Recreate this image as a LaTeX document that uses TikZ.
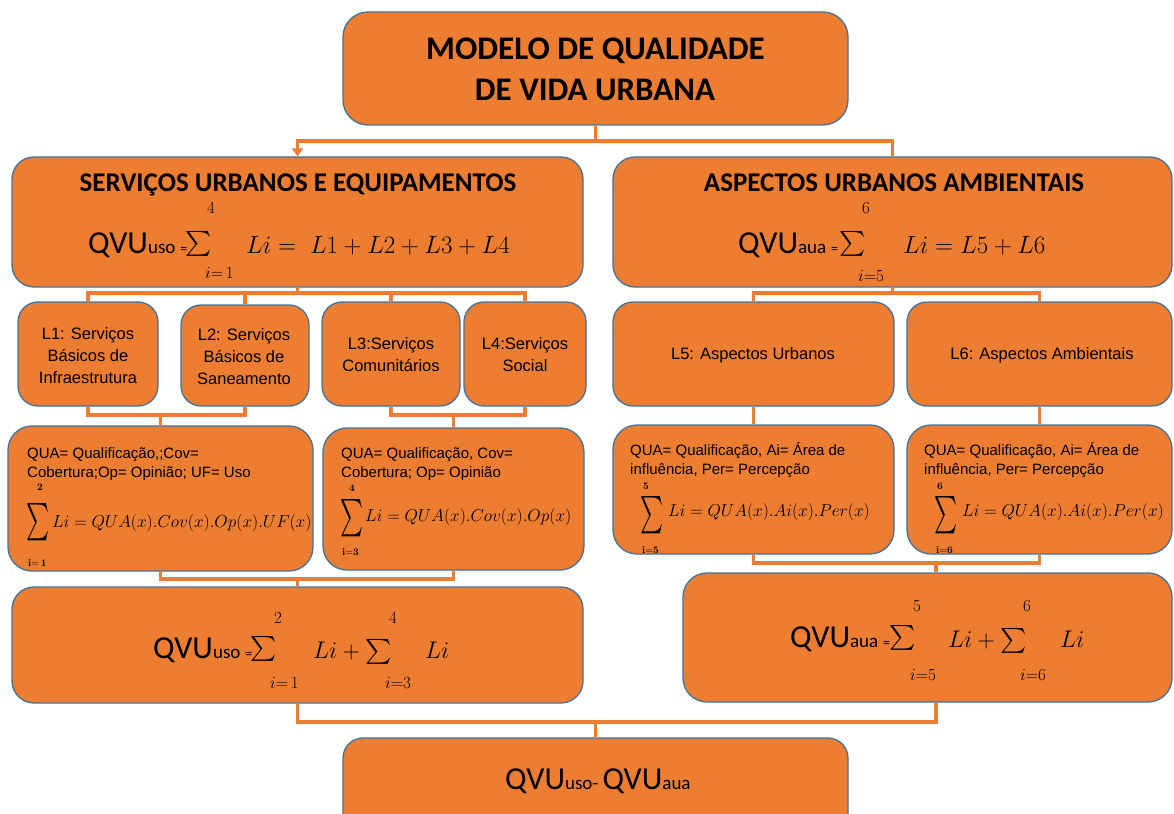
\RequirePackage{fix-cm}
\documentclass[tikz,border=0pt]{standalone}
\usepackage{exscale}
\usepackage[no-math]{fontspec}
\setmainfont{Liberation Sans}
\newfontfamily\calfont{Carlito}
\usetikzlibrary{arrows.meta}
\definecolor{boxfill}{HTML}{ED7D31}
\definecolor{boxline}{HTML}{41719C}
\newcommand\myfs[1]{\fontsize{#1}{#1}\selectfont}
\begin{document}
\begin{tikzpicture}[x=1pt,y=-1pt,
 box/.style={draw=boxline, line width=1.3pt, fill=boxfill, rounded corners=20pt, inner sep=0pt},
 conn/.style={draw=boxfill, line width=3.5pt},
 tw/.style={anchor=base west, inner sep=0pt},
 tb/.style={anchor=base, inner sep=0pt},
 cal/.style={font=\calfont\myfs{#1}},
 calb/.style={font=\calfont\bfseries\myfs{#1}},
 ar/.style={font=\myfs{#1}},
 bigsum/.style={anchor=west, inner sep=0pt, font=\myfs{21}},
]
\useasboundingbox (0,0) rectangle (1174,813);
% boxes
\node[box, rounded corners=25pt, minimum width=505pt, minimum height=113pt] (title) at (595.5,68.5) {};
\node[box, rounded corners=22pt, minimum width=571pt, minimum height=130pt] (hL) at (297.5,222) {};
\node[box, rounded corners=22pt, minimum width=559pt, minimum height=130pt] (hR) at (892.5,222) {};
\node[box, minimum width=140pt, minimum height=104pt] (L1) at (88,354) {};
\node[box, minimum width=128pt, minimum height=101pt] (L2) at (245,355.5) {};
\node[box, minimum width=138pt, minimum height=104pt] (L3) at (391,354) {};
\node[box, minimum width=122pt, minimum height=104pt] (L4) at (525,354) {};
\node[box, minimum width=281pt, minimum height=104pt] (L5) at (753.5,354) {};
\node[box, minimum width=265pt, minimum height=104pt] (L6) at (1039.5,354) {};
\node[box, rounded corners=24pt, minimum width=305pt, minimum height=145pt] (F12) at (160.5,498.5) {};
\node[box, rounded corners=24pt, minimum width=261pt, minimum height=142pt] (F34) at (453.5,499) {};
\node[box, rounded corners=24pt, minimum width=281pt, minimum height=129pt] (F5) at (753.5,489.5) {};
\node[box, rounded corners=24pt, minimum width=265pt, minimum height=129pt] (F6) at (1039.5,489.5) {};
\node[box, rounded corners=22pt, minimum width=571pt, minimum height=116pt] (SL) at (297.5,645) {};
\node[box, rounded corners=24pt, minimum width=489pt, minimum height=129pt] (SR) at (927.5,637.5) {};
\node[box, rounded corners=20pt, minimum width=505pt, minimum height=100pt] (bot) at (595.5,788) {};
% junction coordinates
\coordinate (y1) at (0,141);
\coordinate (y2) at (0,293);
\coordinate (y3) at (0,415);
\coordinate (y4) at (0,579);
\coordinate (y5) at (0,563);
\coordinate (y6) at (0,722);
\coordinate (sR) at (936,0);
% connectors
\draw[conn] (hR.north) |- (title.south |- y1) -- (title.south);
\draw[conn, -{Triangle[width=11pt,length=8pt]}] (title.south |- y1) -| (hL.north);
\draw[conn] (hL.south) -- (hL.south |- y2);
\draw[conn] (L1.north) |- (L4.north |- y2) -- (L4.north);
\draw[conn] (L2.north) -- (L2.north |- y2);
\draw[conn] (L3.north) -- (L3.north |- y2);
\draw[conn] (hR.south) -- (hR.south |- y2);
\draw[conn] (L5.north) |- (L6.north |- y2) -- (L6.north);
\draw[conn] (L1.south) |- (L2.south |- y3) -- (L2.south);
\draw[conn] (F12.north) -- (F12.north |- y3);
\draw[conn] (L3.south) |- (L4.south |- y3) -- (L4.south);
\draw[conn] (F34.north) -- (F34.north |- y3);
\draw[conn] (L5.south) -- (F5.north);
\draw[conn] (L6.south) -- (F6.north);
\draw[conn] (F12.south) |- (F34.south |- y4) -- (F34.south);
\draw[conn] (SL.north) -- (SL.north |- y4);
\draw[conn] (F5.south) |- (F6.south |- y5) -- (F6.south);
\draw[conn] (sR |- SR.north) -- (sR |- y5);
\draw[conn] (SL.south) |- (sR |- y6) -- (sR |- SR.south);
\draw[conn] (bot.north) -- (bot.north |- y6);
% title
\node[tb, calb=33] (t1) at (595.5,60) {MODELO DE QUALIDADE};
\node[tb, calb=33] (t2) at (595,101) {DE VIDA URBANA};
% headers
\node[tb, calb=27] (hLt) at (298,192) {SERVIÇOS URBANOS E EQUIPAMENTOS};
\node[tb, calb=27] (hRt) at (894,192) {ASPECTOS URBANOS AMBIENTAIS};
\node[tw, cal=32] (hLq) at (88,253) {QVU{\myfs{19}uso}\hspace{5pt}{\myfs{14}=}};
\node[tw, ar=24] (hLs) at (185,250) {$\sum$};
\node[tb, ar=17] (hLu) at (211,213) {$4$};
\node[tw, ar=17] (hLl) at (205,278) {$i{=}\,1$};
\node[tw, ar=25] (hLf) at (246,253) {$Li =\; L1 + L2 + L3 + L4$};
\node[tw, cal=32] (hRq) at (738,253) {QVU{\myfs{19}aua}\hspace{5pt}{\myfs{14}=}};
\node[tw, ar=24] (hRs) at (839,250) {$\sum$};
\node[tb, ar=17] (hRu) at (866,213) {$6$};
\node[tw, ar=17] (hRl) at (858,281) {$i{=}5$};
\node[tw, ar=25] (hRf) at (903,253) {$Li = L5 + L6$};
% L boxes
\node[align=center, inner sep=0pt, font=\fontsize{16.5}{22}\selectfont] (L1t) at (88,356) {L1: Serviços\\Básicos de\\Infraestrutura};
\node[align=center, inner sep=0pt, font=\fontsize{16.5}{22}\selectfont] (L2t) at (244,357) {L2: Serviços\\Básicos de\\Saneamento};
\node[align=center, inner sep=0pt, font=\fontsize{16.5}{22}\selectfont] (L3t) at (391,355) {L3:Serviços\\Comunitários};
\node[align=center, inner sep=0pt, font=\fontsize{16.5}{22}\selectfont] (L4t) at (525,355) {L4:Serviços\\Social};
\node[inner sep=0pt, ar=16.5] (L5t) at (753,355) {L5: Aspectos Urbanos};
\node[inner sep=0pt, ar=16.5] (L6t) at (1042,355) {L6: Aspectos Ambientais};
% F12
\node[tw, ar=15] (F12a) at (27,458) {QUA= Qualificação,;Cov=};
\node[tw, ar=15] (F12b) at (27,477) {Cobertura;Op= Opinião; UF= Uso};
\node[tb, ar=10] (F12u) at (40,490) {$\mathbf{2}$};
\node[bigsum] (F12s) at (26,522) {\scalebox{1.05}[1.8]{$\sum$}};
\node[tw, ar=17.3] (F12f) at (52,527) {$Li = QUA(x).Cov(x).Op(x).UF(x)$};
\node[tw, ar=10] (F12l) at (28,566) {$\mathbf{i{=}\,1}$};
% F34
\node[tw, ar=15] (F34a) at (341,458) {QUA= Qualificação, Cov=};
\node[tw, ar=15] (F34b) at (341,477) {Cobertura; Op= Opinião};
\node[tb, ar=10] (F34u) at (352,491) {$\mathbf{4}$};
\node[bigsum] (F34s) at (340,518) {\scalebox{1.05}[1.8]{$\sum$}};
\node[tw, ar=17.3] (F34f) at (365,521) {$Li = QUA(x).Cov(x).Op(x)$};
\node[tw, ar=10] (F34l) at (342,555) {$\mathbf{i{=}3}$};
% F5
\node[tw, ar=15] (F5a) at (630,455) {QUA= Qualificação, Ai= Área de};
\node[tw, ar=15] (F5b) at (630,474) {influência, Per= Percepção};
\node[tb, ar=10] (F5u) at (646,489) {$\mathbf{5}$};
\node[bigsum] (F5s) at (640,515) {\scalebox{1.05}[1.8]{$\sum$}};
\node[tw, ar=17.3] (F5f) at (668,516) {$Li = QUA(x).Ai(x).Per(x)$};
\node[tw, ar=10] (F5l) at (642,553) {$\mathbf{i{=}5}$};
% F6
\node[tw, ar=15] (F6a) at (924,455) {QUA= Qualificação, Ai= Área de};
\node[tw, ar=15] (F6b) at (924,474) {influência, Per= Percepção};
\node[tb, ar=10] (F6u) at (940,489) {$\mathbf{6}$};
\node[bigsum] (F6s) at (934,515) {\scalebox{1.05}[1.8]{$\sum$}};
\node[tw, ar=17.3] (F6f) at (962,516) {$Li = QUA(x).Ai(x).Per(x)$};
\node[tw, ar=10] (F6l) at (936,553) {$\mathbf{i{=}6}$};
% sum left
\node[tw, cal=32] (SLq) at (153,658) {QVU{\myfs{19}uso}\hspace{5pt}{\myfs{14}=}};
\node[tw, ar=24] (SLs) at (250,655) {$\sum$};
\node[tb, ar=17] (SLu1) at (278,623) {$2$};
\node[tw, ar=17] (SLl1) at (270,688) {$i{=}\,1$};
\node[tw, ar=24] (SLf1) at (313,658) {$Li+{\textstyle\sum}$};
\node[tb, ar=17] (SLu2) at (393,623) {$4$};
\node[tw, ar=17] (SLl2) at (385,688) {$i{=}3$};
\node[tw, ar=24] (SLf2) at (425,658) {$Li$};
% sum right
\node[tw, cal=32] (SRq) at (790,647) {QVU{\myfs{19}aua}\hspace{5pt}{\myfs{14}=}};
\node[tw, ar=24] (SRs) at (889,644) {$\sum$};
\node[tb, ar=17] (SRu1) at (917,611) {$5$};
\node[tw, ar=17] (SRl1) at (910,680) {$i{=}5$};
\node[tw, ar=24] (SRf1) at (948,647) {$Li+{\textstyle\sum}$};
\node[tb, ar=17] (SRu2) at (1027,611) {$6$};
\node[tw, ar=17] (SRl2) at (1020,680) {$i{=}6$};
\node[tw, ar=24] (SRf2) at (1060,647) {$Li$};
% bottom
\node[tw, cal=32] (botq) at (505,789) {QVU{\myfs{19}uso- }QVU{\myfs{19}aua}};
\end{tikzpicture}
\end{document}
